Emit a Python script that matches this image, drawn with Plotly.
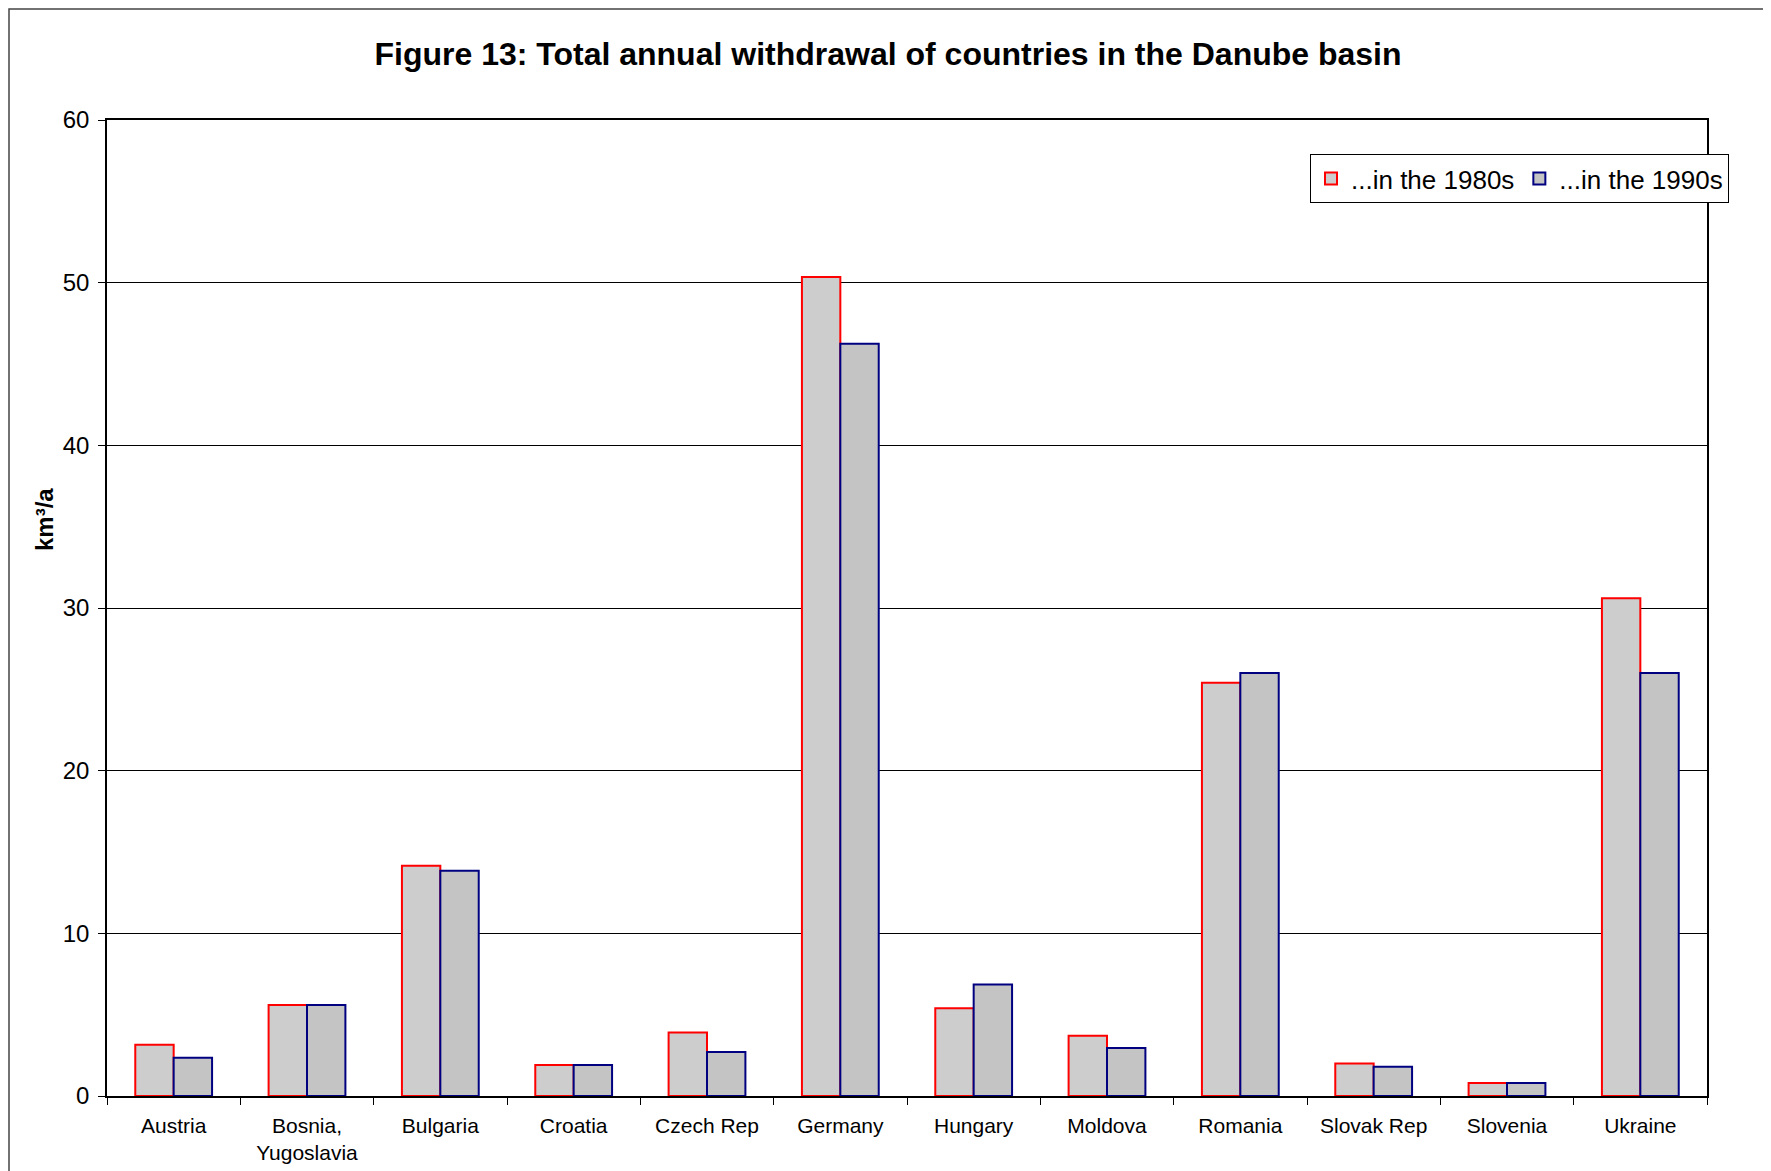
import plotly.graph_objects as go

countries = ["Austria", "Bosnia,<br>Yugoslavia", "Bulgaria", "Croatia", "Czech Rep",
             "Germany", "Hungary", "Moldova", "Romania", "Slovak Rep", "Slovenia", "Ukraine"]
withdrawal_1980s = [3.15, 5.6, 14.15, 1.9, 3.9, 50.35, 5.4, 3.7, 25.4, 2.0, 0.8, 30.6]
withdrawal_1990s = [2.35, 5.6, 13.85, 1.9, 2.7, 46.25, 6.85, 2.95, 26.0, 1.8, 0.8, 26.0]
y_ticks = [0, 10, 20, 30, 40, 50, 60]

FONT = "Liberation Sans, Arial, sans-serif"

# plot area in figure pixels (page body adds 8px offset)
L, R, T, B = 99, 1699, 112, 1088
W, H = R - L, B - T

fig = go.Figure()
fig.add_trace(go.Bar(
    x=countries, y=withdrawal_1980s, name="...in the 1980s",
    marker=dict(color="#CDCDCD", line=dict(color="#FF0000", width=2)),
))
fig.add_trace(go.Bar(
    x=countries, y=withdrawal_1990s, name="...in the 1990s",
    marker=dict(color="#C4C4C4", line=dict(color="#000080", width=2)),
))

fig.update_layout(
    width=1771, height=1171,
    margin=dict(l=L, r=1771 - R, t=T, b=1171 - B),
    paper_bgcolor="white", plot_bgcolor="white",
    barmode="group", bargap=0.424, bargroupgap=0,
    font=dict(family=FONT, color="black"),
    title=dict(text="<b>Figure 13: Total annual withdrawal of countries in the Danube basin</b>",
               x=880 / 1771, xref="container", xanchor="center",
               y=1 - 46 / 1171, yref="container", yanchor="middle",
               font=dict(family=FONT, size=32, color="black")),
    legend=dict(orientation="h", x=(1302 - L) / W, y=(B - 146) / H,
                xanchor="left", yanchor="top",
                bgcolor="white", bordercolor="black", borderwidth=1,
                font=dict(family=FONT, size=26, color="black"),
                traceorder="normal"),
    showlegend=True,
)

fig.update_xaxes(
    showline=True, linecolor="black", linewidth=1.5, mirror=True,
    ticks="outside", ticklen=7, tickcolor="black", tickwidth=1, tickson="boundaries",
    tickfont=dict(family=FONT, size=21, color="black"),
    ticklabelstandoff=10,
    showgrid=False,
)
fig.update_yaxes(
    range=[0, 60], tickvals=y_ticks,
    showline=True, linecolor="black", linewidth=1.5, mirror=True,
    ticks="outside", ticklen=7, tickcolor="black", tickwidth=1,
    tickfont=dict(family=FONT, size=24, color="black"),
    ticklabelstandoff=4,
    showgrid=True, gridcolor="black", gridwidth=1,
    zeroline=False,
)

fig.add_annotation(
    text="<b>km³/a</b>", textangle=-90, showarrow=False,
    xref="paper", yref="paper", x=(36 - L) / W, y=(B - 512) / H,
    xanchor="center", yanchor="middle",
    font=dict(family=FONT, size=24, color="black"),
)

# outer chart border (top and left visible in reference)
fig.add_shape(type="rect", xref="paper", yref="paper",
              x0=(1 - L) / W, x1=1.2, y0=-0.3, y1=(B - 1) / H,
              line=dict(color="#444444", width=1.5), fillcolor="rgba(0,0,0,0)", layer="below")

fig.write_html("out.html")
